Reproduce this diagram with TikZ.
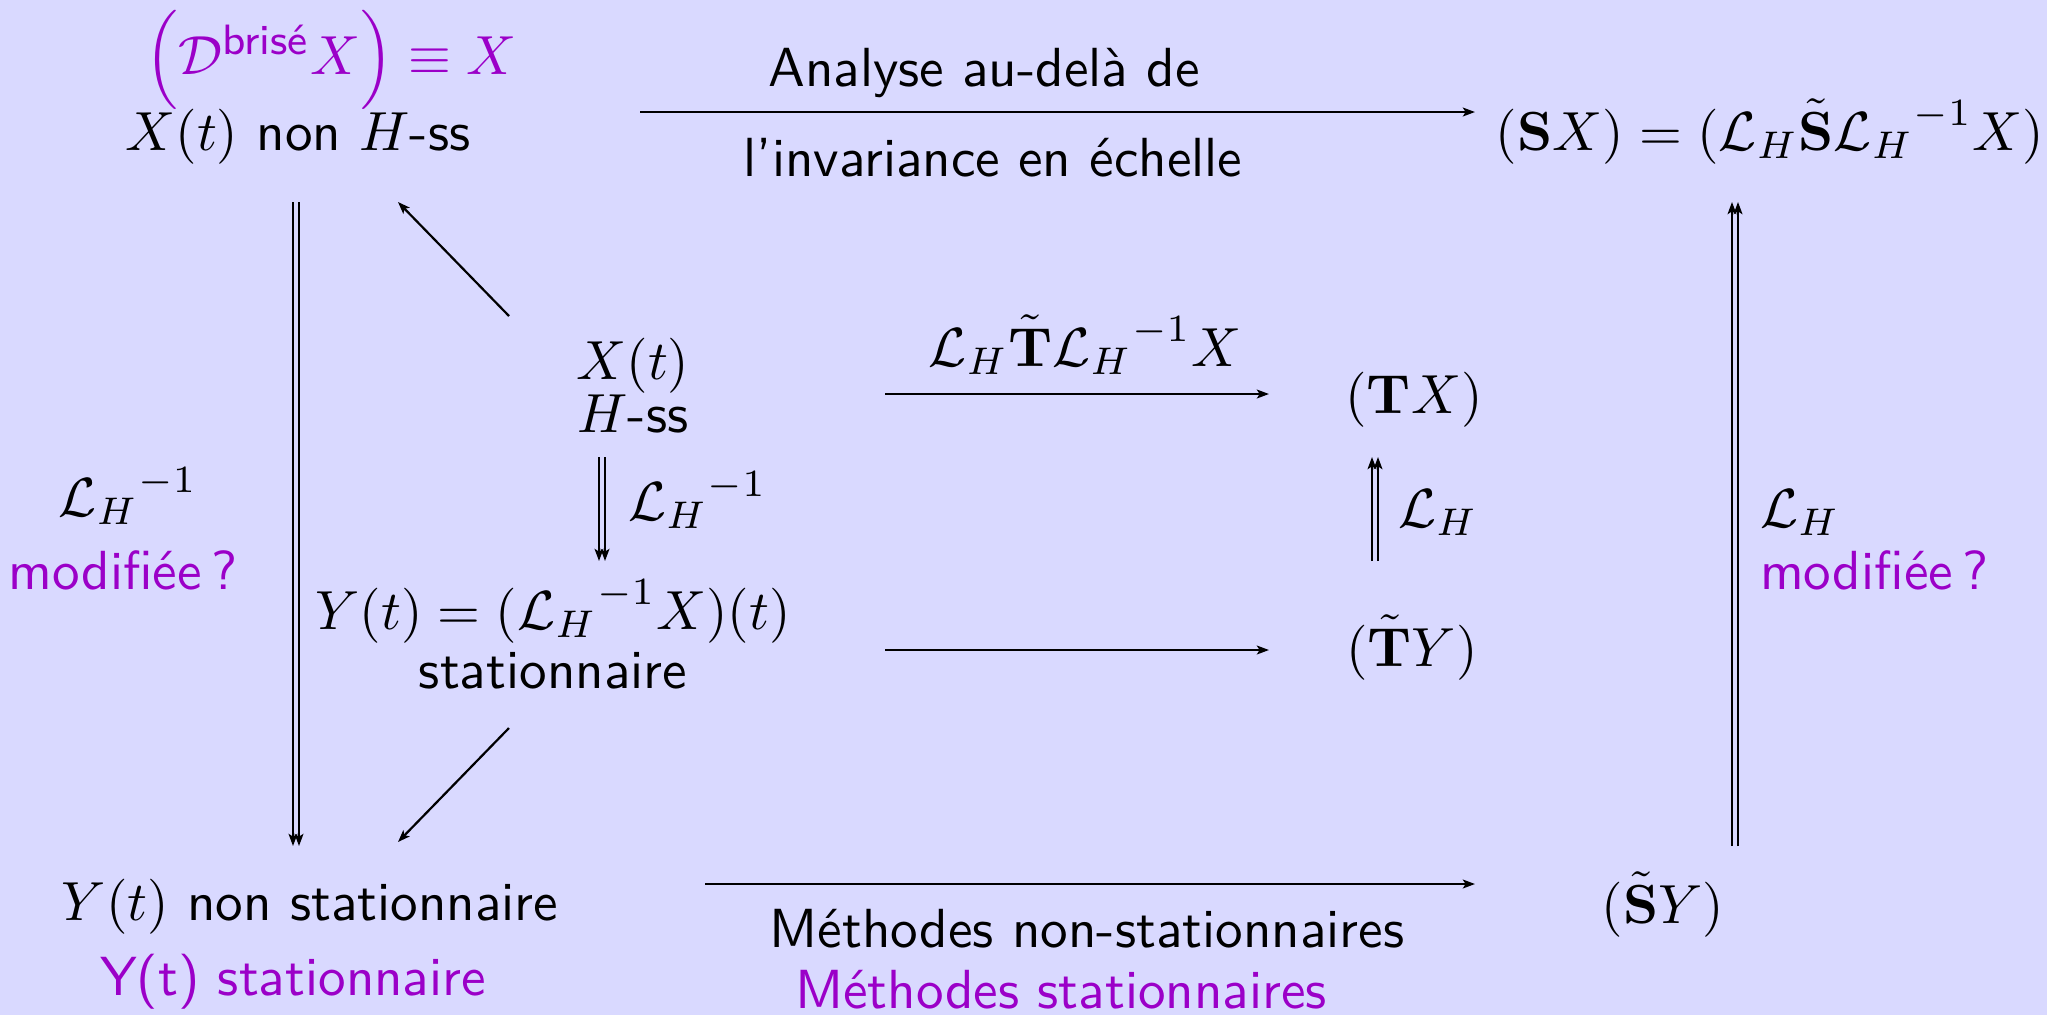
\documentclass[tikz,border=0pt]{standalone}
\usepackage{amsmath}
\usetikzlibrary{arrows.meta,calc}
\renewcommand{\familydefault}{\sfdefault}
\definecolor{bgc}{RGB}{217,217,255}
\definecolor{pur}{RGB}{155,0,200}
\begin{document}
\begin{tikzpicture}[x=0.1815pt,y=-0.1815pt,
  txt/.style={inner sep=0pt,anchor=base},
  lbl/.style={inner sep=0pt},
  arr/.style={line width=0.4pt,-{Stealth[length=2.2pt,width=1.6pt,inset=0.5pt]}},
  hl/.style={text=pur}]
\fill[bgc] (0,0) rectangle (2047,1015);
\useasboundingbox (0,0) rectangle (2047,1015);

% nodes
\node[txt,hl] (pur) at (331,74) {$\Big(\mathcal{D}^{\mbox{\fontsize{7.7pt}{8pt}\selectfont brisé}}X\Big)\equiv X$};
\node[txt] (xnon) at (298,150) {$X(t)$ non $H$-ss};
\node[txt] (ana) at (984,86) {Analyse au-delà de};
\node[txt] (inv) at (993,176) {l’invariance en échelle};
\node[txt] (sx) at (1770,150) {$(\mathbf{S}X)=(\mathcal{L}_H\tilde{\mathbf{S}}{\mathcal{L}_H}^{-1}X)$};
\node[txt] (xc) at (633,379) {$X(t)$};
\node[txt] (hss) at (633,432) {$H$-ss};
\node[lbl,anchor=west] (clh) at (627,500) {${\mathcal{L}_H}^{-1}$};
\node[txt] (yeq) at (553,629) {$Y(t)=({\mathcal{L}_H}^{-1}X)(t)$};
\node[txt] (stat) at (553,688) {stationnaire};
\node[txt] (lab) at (1085,366) {$\mathcal{L}_H\tilde{\mathbf{T}}{\mathcal{L}_H}^{-1}X$};
\node[txt] (tx) at (1414,413) {$(\mathbf{T}X)$};
\node[lbl,anchor=west] (mlh) at (1397,513) {$\mathcal{L}_H$};
\node[txt] (ty) at (1412,666) {$(\tilde{\mathbf{T}}Y)$};
\node[lbl,anchor=west] (rlh) at (1759,513) {$\mathcal{L}_H$};
\node[lbl,anchor=west,hl] (rmod) at (1759,570) {modifiée\,?};
\node[lbl] (llh) at (128,496) {${\mathcal{L}_H}^{-1}$};
\node[lbl,hl] (lmod) at (123,570) {modifiée\,?};
\node[txt] (ynon) at (310,920) {$Y(t)$ non stationnaire};
\node[txt,hl] (ystat) at (293,995) {Y(t) stationnaire};
\node[txt] (m1) at (1087,947) {Méthodes non-stationnaires};
\node[txt,hl] (m2) at (1061,1008) {Méthodes stationnaires};
\node[txt] (sy) at (1663,923) {$(\tilde{\mathbf{S}}Y)$};

% single arrows
\draw[arr] ($(xnon.base)+(342,-38)$) -- ($(sx.base)+(-295,-38)$);
\draw[arr] ($(xc.base)+(-124,-63)$) -- ($(xnon.base)+(100,52)$);
\draw[arr] ($(stat.base)+(-44,40)$) -- ($(ynon.base)+(88,-78)$);
\draw[arr] ($(xc.base)+(252,15)$) -- ($(tx.base)+(-145,-19)$);
\draw[arr] ($(yeq.base)+(332,21)$) -- ($(ty.base)+(-143,-16)$);
\draw[arr] ($(ynon.base)+(395,-36)$) -- ($(sy.base)+(-188,-39)$);

% double arrows
\foreach \s in {-3,3}{
  \draw[arr] ($(xnon.base)+(-2+\s,52)$) -- ($(ynon.base)+(-14+\s,-74)$);
  \draw[arr] ($(hss.base)+(-31+\s,25)$) -- ($(yeq.base)+(49+\s,-68)$);
  \draw[arr] ($(ty.base)+(-37+\s,-105)$) -- ($(tx.base)+(-39+\s,44)$);
  \draw[arr] ($(sy.base)+(72+\s,-77)$) -- ($(sx.base)+(-35+\s,52)$);
}
\end{tikzpicture}
\end{document}
